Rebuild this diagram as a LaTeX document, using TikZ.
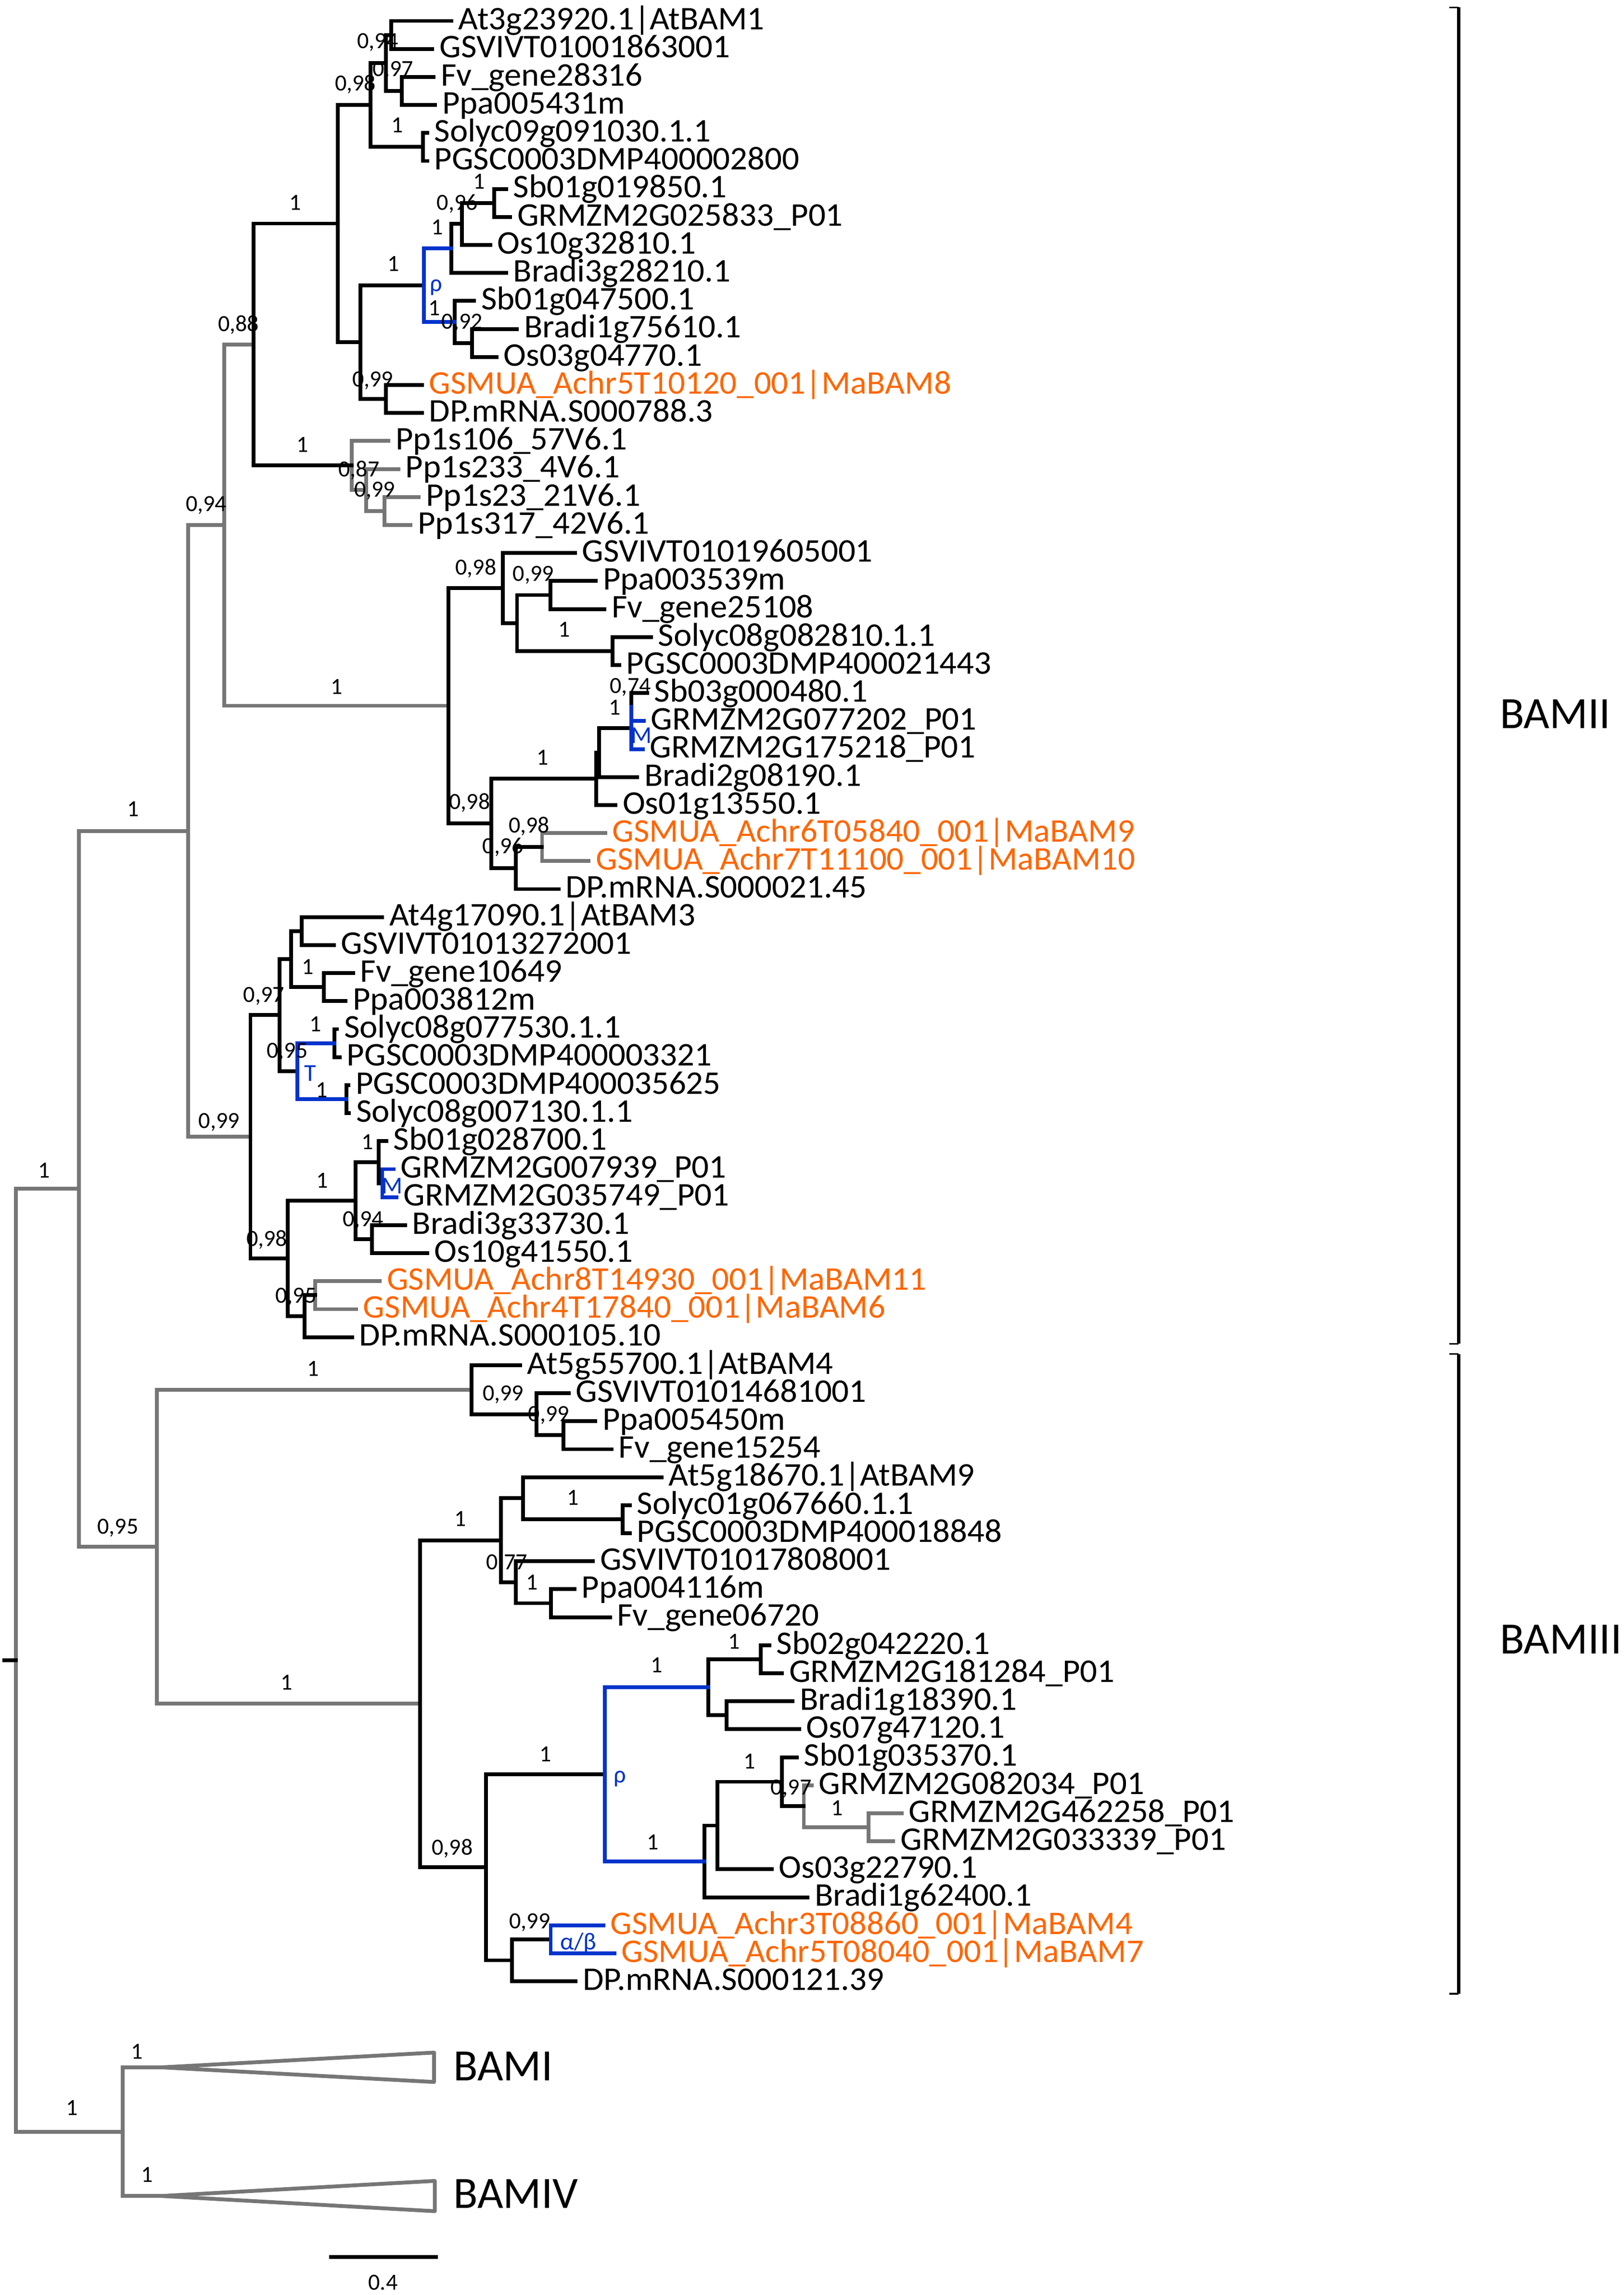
\documentclass[tikz,border=0pt]{standalone}
\usepackage{fontspec}
\setmainfont{Carlito}
\newfontfamily\leaffont{Carlito}[FakeStretch=1.03]
\usetikzlibrary{calc}
\definecolor{brgrey}{RGB}{118,118,118}
\definecolor{mblue}{RGB}{0,51,204}
\definecolor{morange}{RGB}{255,102,0}
\tikzset{
 br/.style={line width=1.3pt, line cap=rect, draw=black},
 gbr/.style={br, draw=brgrey},
 bbr/.style={br, draw=mblue},
 leaf/.style={anchor=base west, inner sep=0pt, font=\leaffont\fontsize{11.3}{12}\selectfont, xshift=2.25pt, yshift=-3pt},
 sup/.style={anchor=base, inner sep=0pt, font=\fontsize{7.9}{9}\selectfont, yshift=-2.5pt},
 dup/.style={anchor=base, inner sep=0pt, text=mblue, font=\fontsize{8.3}{9}\selectfont, yshift=-2.6pt},
 grp/.style={anchor=base west, inner sep=0pt, font=\fontsize{15.3}{17}\selectfont, yshift=-4.85pt},
 brk/.style={line width=1.25pt},
 tick/.style={line width=0.5pt},
}
\newcommand\lf[5][black]{%
 \coordinate (#2) at (#4,{14.3+19.14*(#3-1)});
 \node[leaf,text=#1] (t#2) at (#2) {#5};}
\newcommand\nd[4]{\coordinate (m#1) at ($(#3)!0.5!(#4)$); \coordinate (#1) at (#2,0 |- m#1);}
\newcommand\cl[4][br]{\draw[#1] (#3) -- (#2 |- #3) -- (#2 |- #4) -- (#4);}
\begin{document}
\begin{tikzpicture}[x=0.5pt,y=-0.5pt]
\useasboundingbox (0,0) rectangle (1110,1568.5);
% leaves
\lf{L1}{1}{308.5}{At3g23920.1|AtBAM1}
\lf{L2}{2}{295.5}{GSVIVT01001863001}
\lf{L3}{3}{296.4}{Fv\_gene28316}
\lf{L4}{4}{297.4}{Ppa005431m}
\lf{L5}{5}{292}{Solyc09g091030.1.1}
\lf{L6}{6}{292}{PGSC0003DMP400002800}
\lf{L7}{7}{346}{Sb01g019850.1}
\lf{L8}{8}{348.7}{GRMZM2G025833\_P01}
\lf{L9}{9}{335}{Os10g32810.1}
\lf{L10}{10}{346}{Bradi3g28210.1}
\lf{L11}{11}{324}{Sb01g047500.1}
\lf{L12}{12}{353.4}{Bradi1g75610.1}
\lf{L13}{13}{339.3}{Os03g04770.1}
\lf[morange]{L14}{14}{288.3}{GSMUA\_Achr5T10120\_001|MaBAM8}
\lf{L15}{15}{288.3}{DP.mRNA.S000788.3}
\lf{L16}{16}{265.5}{Pp1s106\_57V6.1}
\lf{L17}{17}{272.2}{Pp1s233\_4V6.1}
\lf{L18}{18}{286.3}{Pp1s23\_21V6.1}
\lf{L19}{19}{280.6}{Pp1s317\_42V6.1}
\lf{L20}{20}{393}{GSVIVT01019605001}
\lf{L21}{21}{407.2}{Ppa003539m}
\lf{L22}{22}{413.2}{Fv\_gene25108}
\lf{L23}{23}{445}{Solyc08g082810.1.1}
\lf{L24}{24}{423.3}{PGSC0003DMP400021443}
\lf{L25}{25}{442.3}{Sb03g000480.1}
\lf{L26}{26}{440}{GRMZM2G077202\_P01}
\lf{L27}{27}{439.4}{GRMZM2G175218\_P01}
\lf{L28}{28}{435.5}{Bradi2g08190.1}
\lf{L29}{29}{420.7}{Os01g13550.1}
\lf[morange]{L30}{30}{413.6}{GSMUA\_Achr6T05840\_001|MaBAM9}
\lf[morange]{L31}{31}{402.4}{GSMUA\_Achr7T11100\_001|MaBAM10}
\lf{L32}{32}{381.7}{DP.mRNA.S000021.45}
\lf{L33}{33}{261.3}{At4g17090.1|AtBAM3}
\lf{L34}{34}{228.2}{GSVIVT01013272001}
\lf{L35}{35}{241.4}{Fv\_gene10649}
\lf{L36}{36}{236.2}{Ppa003812m}
\lf{L37}{37}{230.3}{Solyc08g077530.1.1}
\lf{L38}{38}{232.2}{PGSC0003DMP400003321}
\lf{L39}{39}{238.2}{PGSC0003DMP400035625}
\lf{L40}{40}{238.5}{Solyc08g007130.1.1}
\lf{L41}{41}{264.1}{Sb01g028700.1}
\lf{L42}{42}{269}{GRMZM2G007939\_P01}
\lf{L43}{43}{271}{GRMZM2G035749\_P01}
\lf{L44}{44}{276.8}{Bradi3g33730.1}
\lf{L45}{45}{292}{Os10g41550.1}
\lf[morange]{L46}{46}{259.6}{GSMUA\_Achr8T14930\_001|MaBAM11}
\lf[morange]{L47}{47}{243.4}{GSMUA\_Achr4T17840\_001|MaBAM6}
\lf{L48}{48}{240.7}{DP.mRNA.S000105.10}
\lf{L49}{49}{355.5}{At5g55700.1|AtBAM4}
\lf{L50}{50}{388.7}{GSVIVT01014681001}
\lf{L51}{51}{406.9}{Ppa005450m}
\lf{L52}{52}{418}{Fv\_gene15254}
\lf{L53}{53}{452.2}{At5g18670.1|AtBAM9}
\lf{L54}{54}{430.5}{Solyc01g067660.1.1}
\lf{L55}{55}{430.5}{PGSC0003DMP400018848}
\lf{L56}{56}{405.3}{GSVIVT01017808001}
\lf{L57}{57}{392.7}{Ppa004116m}
\lf{L58}{58}{416.9}{Fv\_gene06720}
\lf{L59}{59}{525.8}{Sb02g042220.1}
\lf{L60}{60}{534.5}{GRMZM2G181284\_P01}
\lf{L61}{61}{541.8}{Bradi1g18390.1}
\lf{L62}{62}{546.3}{Os07g47120.1}
\lf{L63}{63}{544.6}{Sb01g035370.1}
\lf{L64}{64}{554.7}{GRMZM2G082034\_P01}
\lf{L65}{65}{616.3}{GRMZM2G462258\_P01}
\lf{L66}{66}{610.6}{GRMZM2G033339\_P01}
\lf{L67}{67}{527.5}{Os03g22790.1}
\lf{L68}{68}{552}{Bradi1g62400.1}
\lf[morange]{L69}{69}{412.3}{GSMUA\_Achr3T08860\_001|MaBAM4}
\lf[morange]{L70}{70}{419.9}{GSMUA\_Achr5T08040\_001|MaBAM7}
\lf{L71}{71}{393.4}{DP.mRNA.S000121.39}
% internal nodes
\nd{F}{267.5}{L1}{L2}
\nd{G}{274.7}{L3}{L4}
\nd{E}{263.7}{F}{G}
\nd{SP}{289}{L5}{L6}
\nd{C}{253.3}{E}{SP}
\nd{J}{337.7}{L7}{L8}
\nd{I}{315.8}{J}{L9}
\nd{H}{308.5}{I}{L10}
\nd{nL}{322.6}{L12}{L13}
\nd{K}{310.8}{L11}{nL}
\nd{RA}{289.7}{H}{K}
\nd{MBe}{263.8}{L14}{L15}
\nd{D}{246.4}{RA}{MBe}
\nd{B}{231}{C}{D}
\nd{Q}{262.8}{L18}{L19}
\nd{O}{250.4}{L17}{Q}
\nd{N}{240.3}{L16}{O}
\nd{A}{173.2}{B}{N}
\nd{U}{376.3}{L21}{L22}
\nd{V}{418.6}{L23}{L24}
\nd{T}{353.4}{U}{V}
\nd{S}{343.7}{L20}{T}
\nd{Zi}{431.5}{L25}{L26}
\nd{Z}{431.5}{Zi}{L27}
\nd{Xb}{409.6}{Z}{L28}
\nd{Xa}{407.4}{Xb}{L29}
\nd{Yb}{370.5}{L30}{L31}
\nd{Y}{352.6}{Yb}{L32}
\nd{W}{335.9}{Xa}{Y}
\nd{R}{306.4}{S}{W}
\nd{P}{153.2}{A}{R}
\nd{EE}{206.3}{L33}{L34}
\nd{FF}{221.4}{L35}{L36}
\nd{DD}{199.1}{EE}{FF}
\nd{GG}{228.6}{L37}{L38}
\nd{HH}{236.8}{L39}{L40}
\nd{TB}{203.3}{GG}{HH}
\nd{CC}{191.2}{DD}{TB}
\nd{MB}{261.3}{L42}{L43}
\nd{LL}{258.9}{L41}{MB}
\nd{MM}{254.1}{L44}{L45}
\nd{JJ}{243}{LL}{MM}
\nd{KG}{215.5}{L46}{L47}
\nd{KK}{208.3}{KG}{L48}
\nd{II}{196.8}{JJ}{KK}
\nd{BB}{171.2}{CC}{II}
\nd{AA}{128.6}{P}{BB}
\nd{RR}{385.2}{L51}{L52}
\nd{QQ}{366.6}{L50}{RR}
\nd{PP}{322.3}{L49}{QQ}
\nd{XX}{425.5}{L54}{L55}
\nd{UU}{357.5}{L53}{XX}
\nd{WW}{376.6}{L57}{L58}
\nd{VV}{352.5}{L56}{WW}
\nd{TT}{342.4}{UU}{VV}
\nd{BBB}{519.9}{L59}{L60}
\nd{CCC}{496.5}{L61}{L62}
\nd{AAA}{484.1}{BBB}{CCC}
\nd{HHH}{593.6}{L65}{L66}
\nd{GGG}{549.4}{L64}{HHH}
\nd{FFF}{534.3}{L63}{GGG}
\nd{EEE}{490.5}{FFF}{L67}
\nd{DDD}{481.4}{EEE}{L68}
\nd{RB}{413.4}{AAA}{DDD}
\nd{AB}{376.4}{L69}{L70}
\nd{ZZ}{350}{AB}{L71}
\nd{YY}{332.3}{RB}{ZZ}
\nd{SS}{287}{TT}{YY}
\nd{OO}{107.3}{PP}{SS}
\nd{KKK}{53.9}{AA}{OO}
\coordinate (BI) at (110.4,1412.9);
\coordinate (BIa) at (296.7,1402.8);
\coordinate (BIb) at (296.7,1422.9);
\coordinate (BIV) at (110.4,1500.8);
\coordinate (BIVa) at (297.2,1490.5);
\coordinate (BIVb) at (297.2,1511.2);
\nd{III}{84}{BI}{BIV}
\nd{ROOT}{10.9}{KKK}{III}
\coordinate (rtick) at (3,0 |- ROOT);
% grey branches
\cl[gbr]{Q}{L18}{L19}
\cl[gbr]{O}{L17}{Q}
\cl[gbr]{N}{L16}{O}
\cl[gbr]{Yb}{L30}{L31}
\cl[gbr]{KG}{L46}{L47}
\cl[gbr]{HHH}{L65}{L66}
\cl[gbr]{GGG}{L64}{HHH}
\cl[gbr]{P}{A}{R}
\cl[gbr]{AA}{P}{BB}
\cl[gbr]{OO}{PP}{SS}
\cl[gbr]{KKK}{AA}{OO}
\cl[gbr]{III}{BI}{BIV}
\cl[gbr]{ROOT}{KKK}{III}
\draw[gbr, line join=round] (BI) -- (BIa) -- (BIb) -- cycle;
\draw[gbr, line join=round] (BIV) -- (BIVa) -- (BIVb) -- cycle;
\draw[br] (rtick) -- (ROOT);
% black branches
\cl{F}{L1}{L2} \cl{G}{L3}{L4} \cl{E}{F}{G} \cl{SP}{L5}{L6} \cl{C}{E}{SP}
\cl{J}{L7}{L8} \cl{I}{J}{L9} \cl{H}{I}{L10} \cl{nL}{L12}{L13} \cl{K}{L11}{nL}
\cl{MBe}{L14}{L15} \cl{D}{RA}{MBe} \cl{B}{C}{D} \cl{A}{B}{N}
\cl{U}{L21}{L22} \cl{V}{L23}{L24} \cl{T}{U}{V} \cl{S}{L20}{T}
\cl{Xb}{Z}{L28} \cl{Xa}{Xb}{L29} \cl{Y}{Yb}{L32} \cl{W}{Xa}{Y} \cl{R}{S}{W}
\cl{EE}{L33}{L34} \cl{FF}{L35}{L36} \cl{DD}{EE}{FF} \cl{GG}{L37}{L38} \cl{HH}{L39}{L40}
\cl{CC}{DD}{TB} \cl{LL}{L41}{MB} \cl{MM}{L44}{L45} \cl{JJ}{LL}{MM}
\cl{KK}{KG}{L48} \cl{II}{JJ}{KK} \cl{BB}{CC}{II}
\cl{RR}{L51}{L52} \cl{QQ}{L50}{RR} \cl{PP}{L49}{QQ}
\cl{XX}{L54}{L55} \cl{UU}{L53}{XX} \cl{WW}{L57}{L58} \cl{VV}{L56}{WW} \cl{TT}{UU}{VV}
\cl{BBB}{L59}{L60} \cl{CCC}{L61}{L62} \cl{AAA}{BBB}{CCC}
\cl{FFF}{L63}{GGG} \cl{EEE}{FFF}{L67} \cl{DDD}{EEE}{L68}
\cl{ZZ}{AB}{L71} \cl{YY}{RB}{ZZ} \cl{SS}{TT}{YY}
\draw[br] (L25) -- (Zi |- L25) -- (Zi);
% blue branches
\cl[bbr]{RA}{H}{K}
\cl[bbr]{TB}{GG}{HH}
\cl[bbr]{MB}{L42}{L43}
\cl[bbr]{RB}{AAA}{DDD}
\cl[bbr]{AB}{L69}{L70}
\draw[bbr] (Zi) -- (Zi |- L27) -- (L27);
\draw[bbr] (Zi |- L26) -- (L26);
% support values
\node[sup] (s1) at (258.2,28) {0,94};
\node[sup] (s2) at (268.6,47.1) {0,97};
\node[sup] (s3) at (242.9,57) {0,98};
\node[sup] (s4) at (271.5,85.6) {1};
\node[sup] (s5) at (201.7,138.4) {1};
\node[sup] (s6) at (327.6,124.2) {1};
\node[sup] (s7) at (312.5,138.4) {0,96};
\node[sup] (s8) at (299,155.2) {1};
\node[sup] (s9) at (268.8,180.4) {1};
\node[sup] (s10) at (297,210.6) {1};
\node[sup] (s11) at (315.8,219.8) {0,92};
\node[sup] (s12) at (163,221.5) {0,88};
\node[sup] (s13) at (254.8,259.2) {0,99};
\node[sup] (s14) at (206.8,304) {1};
\node[sup] (s15) at (245.4,320.9) {0,87};
\node[sup] (s16) at (256.1,334.5) {0,99};
\node[sup] (s17) at (141,344.4) {0,94};
\node[sup] (s18) at (325.3,387.7) {0,98};
\node[sup] (s19) at (364.5,392.1) {0,99};
\node[sup] (s20) at (385.7,430.3) {1};
\node[sup] (s21) at (230.2,469.3) {1};
\node[sup] (s22) at (430.9,468.8) {0,74};
\node[sup] (s23) at (420.3,483.6) {1};
\node[sup] (s24) at (370.9,517.9) {1};
\node[sup] (s25) at (321,548.1) {0,98};
\node[sup] (s26) at (361.7,564) {0,98};
\node[sup] (s27) at (343.8,578.3) {0,96};
\node[sup] (s28) at (91,553) {1};
\node[sup] (s29) at (180.4,680) {0,97};
\node[sup] (s30) at (210.3,661) {1};
\node[sup] (s31) at (215.5,700.1) {1};
\node[sup] (s32) at (196.3,718) {0,95};
\node[sup] (s33) at (219.8,745) {1};
\node[sup] (s34) at (149.7,766.2) {0,99};
\node[sup] (s35) at (251.3,780.4) {1};
\node[sup] (s36) at (30,800) {1};
\node[sup] (s37) at (220.3,806.8) {1};
\node[sup] (s38) at (248.2,833.3) {0,94};
\node[sup] (s39) at (182.4,846.5) {0,98};
\node[sup] (s40) at (202.3,885.4) {0,95};
\node[sup] (s41) at (214,935.4) {1};
\node[sup] (s42) at (343.9,952.3) {0,99};
\node[sup] (s43) at (375.1,966.3) {0,99};
\node[sup] (s44) at (391.7,1023.6) {1};
\node[sup] (s45) at (314.7,1038.2) {1};
\node[sup] (s46) at (80.6,1043.4) {0,95};
\node[sup] (s47) at (346.4,1067.6) {0,77};
\node[sup] (s48) at (363.5,1081.6) {1};
\node[sup] (s49) at (501.8,1122.1) {1};
\node[sup] (s50) at (448.9,1138.2) {1};
\node[sup] (s51) at (196,1150) {1};
\node[sup] (s52) at (372.7,1199) {1};
\node[sup] (s53) at (512.4,1204) {1};
\node[sup] (s54) at (540.7,1221.6) {0,97};
\node[sup] (s55) at (572,1235.9) {1};
\node[sup] (s56) at (446.3,1259.1) {1};
\node[sup] (s57) at (309.2,1262.8) {0,98};
\node[sup] (s58) at (362.1,1313.1) {0,99};
\node[sup] (s59) at (93.5,1402.1) {1};
\node[sup] (s60) at (49.1,1440.5) {1};
\node[sup] (s61) at (100.4,1486.5) {1};
% duplication labels
\node[dup] (d1) at (298,193.8) {ρ};
\node[dup] (d2) at (438.6,502.7) {M};
\node[dup] (d3) at (212.2,733.6) {T};
\node[dup] (d4) at (268.1,810.6) {M};
\node[dup] (d5) at (423.6,1213.3) {ρ};
\node[dup] (d6) at (395.3,1327.4) {α/β};
% collapsed groups
\node[grp] (gI) at (309.5,1412.1) {BAMI};
\node[grp] (gIV) at (309.5,1499.5) {BAMIV};
% brackets
\coordinate (b2ta) at (990.5,5);
\coordinate (b2t) at (997,5);
\coordinate (b2b) at (997,918.4);
\coordinate (b2ba) at (990.5,918.4);
\coordinate (b3ta) at (990.5,925.4);
\coordinate (b3t) at (997,925.4);
\coordinate (b3b) at (997,1362.6);
\coordinate (b3ba) at (990.5,1362.6);
\draw[brk] (b2t) -- (b2b);
\draw[tick] (b2ta) -- (b2t);
\draw[tick] (b2ba) -- (b2b);
\draw[brk] (b3t) -- (b3b);
\draw[tick] (b3ta) -- (b3t);
\draw[tick] (b3ba) -- (b3b);
\node[grp] (gII) at (1024.8,488.2) {BAMII};
\node[grp] (gIII) at (1024.8,1120.5) {BAMIII};
% scale bar
\coordinate (sb1) at (225,1542.4);
\coordinate (sb2) at (299.2,1542.4);
\draw[line width=1.3pt] (sb1) -- (sb2);
\node[sup] (sc) at (261.8,1560) {0.4};
\end{tikzpicture}
\end{document}
